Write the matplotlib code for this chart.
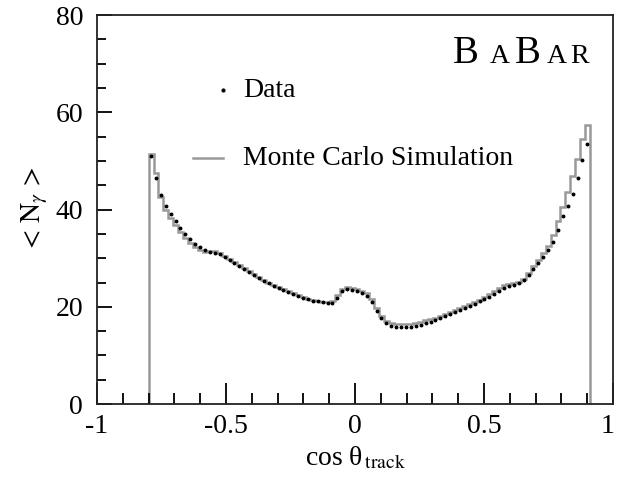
import numpy as np
import matplotlib
matplotlib.use("Agg")
import matplotlib.pyplot as plt
from matplotlib.ticker import MultipleLocator
from matplotlib.transforms import ScaledTranslation

plt.rcParams['font.family'] = ['Liberation Serif', 'DejaVu Serif']
plt.rcParams['mathtext.fontset'] = 'stix'
plt.rcParams['axes.unicode_minus'] = False

# binning in cos(theta_track): 90 bins from -0.80 to 0.91
lo, hi, nbins = -0.80, 0.91, 90

# data: <N_gamma> per bin
data = [51.0, 46.5, 43.0, 40.8, 39.0, 37.6, 36.2, 35.0, 33.9, 33.0,
        32.3, 31.7, 31.3, 31.1, 30.8, 30.3, 29.7, 29.1, 28.5, 27.8,
        27.2, 26.6, 26.0, 25.4, 24.8, 24.3, 23.8, 23.4, 23.0, 22.6,
        22.2, 21.9, 21.6, 21.3, 21.1, 20.9, 20.7, 20.8, 21.9, 23.2,
        23.6, 23.5, 23.2, 22.9, 22.3, 21.0, 19.2, 17.6, 16.6, 16.1,
        15.9, 15.8, 15.8, 15.9, 16.0, 16.3, 16.6, 16.9, 17.3, 17.7,
        18.1, 18.5, 18.9, 19.3, 19.7, 20.1, 20.6, 21.1, 21.6, 22.1,
        22.7, 23.3, 23.8, 24.2, 24.5, 24.9, 25.5, 26.5, 27.8, 29.0,
        30.3, 31.6, 33.3, 35.8, 38.6, 40.8, 43.2, 46.5, 50.3, 53.5]

# Monte Carlo simulation
mc = [51.5, 47.5, 42.5, 40.0, 38.2, 36.8, 35.4, 34.2, 33.1, 32.3,
      31.7, 31.3, 31.4, 31.5, 31.0, 30.4, 29.8, 29.2, 28.6, 27.9,
      27.3, 26.7, 26.1, 25.5, 25.0, 24.5, 24.0, 23.6, 23.2, 22.8,
      22.4, 22.0, 21.7, 21.4, 21.2, 21.0, 20.9, 21.2, 22.5, 23.7,
      24.0, 23.9, 23.6, 23.3, 22.8, 21.6, 19.8, 18.1, 17.1, 16.7,
      16.5, 16.4, 16.4, 16.5, 16.6, 16.9, 17.2, 17.5, 17.8, 18.2,
      18.6, 19.0, 19.4, 19.8, 20.2, 20.6, 21.0, 21.5, 22.0, 22.6,
      23.2, 23.9, 24.4, 24.6, 24.8, 25.1, 25.8, 27.0, 28.4, 29.7,
      31.0, 32.6, 34.8, 37.6, 40.5, 43.6, 47.0, 50.5, 54.5, 57.5]

xticks = [-1, -0.5, 0, 0.5, 1]
xticklabels = ['-1', '-0.5', '0', '0.5', '1']

edges = np.linspace(lo, hi, nbins + 1)
centers = 0.5 * (edges[:-1] + edges[1:])

mc_color = '#999999'

fig = plt.figure(figsize=(6.18, 4.88), dpi=100)
ax = fig.add_axes([0.157, 0.172, 0.835, 0.797])

ax.stairs(mc, edges, baseline=0, fill=False, color=mc_color, lw=1.8)
ax.plot(centers, data, ls='none', marker='o', ms=1.8, color='black')

ax.set_xlim(-1, 1)
ax.set_ylim(0, 80)
ax.set_xticks(xticks, xticklabels)
ax.xaxis.set_minor_locator(MultipleLocator(0.1))
ax.yaxis.set_major_locator(MultipleLocator(20))
ax.yaxis.set_minor_locator(MultipleLocator(5))
ax.tick_params(axis='x', which='major', direction='in', length=15, width=1.3,
               labelsize=20, pad=7)
ax.tick_params(axis='x', which='minor', direction='in', length=8, width=1.3)
ax.tick_params(axis='y', which='major', direction='in', length=11, width=1.3,
               labelsize=20, pad=10)
ax.tick_params(axis='y', which='minor', direction='in', length=6.5, width=1.3)
for s in ax.spines.values():
    s.set_linewidth(1.3)
    s.set_color('#222222')

# keep the "1" label inside the figure edge
last = ax.get_xticklabels()[-1]
last.set_transform(last.get_transform() + ScaledTranslation(-4 / 72, 0, fig.dpi_scale_trans))

ax.set_xlabel('cos θ$_{\\,\\mathrm{track}}$', fontsize=20, labelpad=4)
ax.set_ylabel(r'$<\,\mathrm{N}_{\gamma}\,>$', fontsize=20, labelpad=4)

# legend, drawn ROOT style: symbol then label
ax.plot([0.244], [0.807], ls='none', marker='o', ms=2.0, color='black',
        transform=ax.transAxes)
ax.text(0.283, 0.807, 'Data', fontsize=20, va='center', transform=ax.transAxes)
ax.plot([0.186, 0.244], [0.632, 0.632], color=mc_color, lw=1.8,
        transform=ax.transAxes)
ax.text(0.283, 0.632, 'Monte Carlo Simulation', fontsize=20, va='center',
        transform=ax.transAxes)

# BaBar logo
logo = [('B', 28, 0.0), ('A', 20, 0.143), ('B', 28, 0.240), ('A', 20, 0.364), ('R', 20, 0.453)]
for ch, fs, dx in logo:
    ax.text(0.38 + dx, 70.2, ch, fontsize=fs, va='baseline', ha='left',
            transform=ax.transData)

fig.savefig('out.png', dpi=100)
